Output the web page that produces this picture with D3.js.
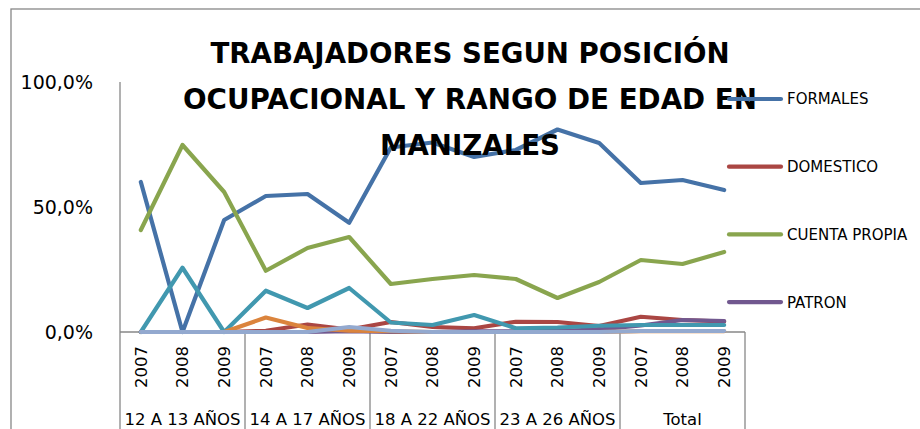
<!DOCTYPE html>
<html><head><meta charset="utf-8">
<script src="https://cdn.jsdelivr.net/npm/d3@7"></script>
<style>body{margin:0;background:#fff}svg{display:block}text{font-family:"DejaVu Sans",sans-serif}</style>
</head><body><svg id="c" width="920" height="429"></svg>
<script>
const groups = ["12 A 13 AÑOS","14 A 17 AÑOS","18 A 22 AÑOS","23 A 26 AÑOS","Total"];
const years = ["2007","2008","2009"];
const titleLines = ["TRABAJADORES SEGUN POSICIÓN","OCUPACIONAL Y RANGO DE EDAD EN","MANIZALES"];
const yTicks = [0,50,100];
const formales     = [60,0,44.8, 54.4,55.2,43.7, 73.8,75.8,70, 72.8,81,75.6, 59.6,60.8,56.8];
const domestico    = [0,0,0, 0.5,3,1, 4,2,1.5, 4.1,4,2.4, 6.1,4.8,4.2];
const cuentaPropia = [40.8,74.8,56, 24.5,33.6,38, 19.2,21.2,22.8, 21.2,13.6,20, 28.8,27.2,32];
const patron       = [0,0,0, 0,0,0.3, 0,0,0.3, 0.3,0.5,1, 2.6,4.8,4.4];
const serie5       = [0,25.7,0, 16.5,9.6,17.6, 3.8,2.8,6.8, 1.5,1.8,2.5, 2.8,2.8,2.8];
const serie6       = [0,0,0, 5.8,1.6,0.5, 0.3,0,0, 0,0,0, 0.3,0.3,0.3];
const serie7       = [0,0,0, 0,0,2, 0.5,0,0, 0,0,0, 0.4,0.4,0.4];
const seriesNames  = ["FORMALES","DOMESTICO","CUENTA PROPIA","PATRON","SERIE 5","SERIE 6","SERIE 7"];
const seriesValues = [formales,domestico,cuentaPropia,patron,serie5,serie6,serie7];
const colors = ["#4572A7","#AA4643","#89A54E","#71588F","#4198AF","#DB843D","#93A9CF"];
const legendCount = 4;

const cats = [];
groups.forEach(g => years.forEach(y => cats.push(g + "|" + y)));

const svg = d3.select("#c");
const L = 120, R = 745, T = 82, B = 332;
const x = d3.scaleBand().domain(cats).range([L, R]).padding(0);
const xg = d3.scaleBand().domain(groups).range([L, R]).padding(0);
const y = d3.scaleLinear().domain([0,100]).range([B, T]);
const cx = c => x(c) + x.bandwidth()/2;

// outer frame
svg.append("rect").attr("x",11).attr("y",9).attr("width",1000).attr("height",1000)
  .attr("fill","none").attr("stroke","#878787").attr("stroke-width",1.3);

// y axis
const ya = svg.append("g").attr("transform",`translate(${L},0)`)
  .call(d3.axisLeft(y).tickValues(yTicks).tickSize(0).tickPadding(27)
    .tickFormat(d => d.toFixed(1).replace(".",",") + "%"));
ya.select(".domain").remove();
ya.selectAll("text").attr("font-size",19).attr("fill","#000").attr("dy","0.36em")
  .attr("font-family","DejaVu Sans");
svg.append("line").attr("x1",L).attr("x2",L).attr("y1",y(100)).attr("y2",429)
  .attr("stroke","#878787").attr("stroke-width",1.3);
// x axis
svg.append("line").attr("x1",L).attr("x2",R).attr("y1",B).attr("y2",B)
  .attr("stroke","#878787").attr("stroke-width",1.3);
groups.forEach(g => {
  svg.append("line").attr("x1",xg(g)+xg.bandwidth()).attr("x2",xg(g)+xg.bandwidth())
    .attr("y1",B).attr("y2",429).attr("stroke","#878787").attr("stroke-width",1.3);
  svg.append("text").attr("x",xg(g)+xg.bandwidth()/2).attr("y",425)
    .attr("text-anchor","middle").attr("font-size",16.5).text(g);
});
cats.forEach(c => {
  svg.append("text").attr("transform",`translate(${cx(c)},367) rotate(-90)`)
    .attr("text-anchor","middle").attr("dy","0.36em").attr("font-size",16.5)
    .text(c.split("|")[1]);
});

// lines
const line = d3.line().x((d,i) => cx(cats[i])).y(d => y(d));
seriesValues.forEach((vals,k) => {
  svg.append("path").datum(vals).attr("d",line).attr("fill","none")
    .attr("stroke",colors[k]).attr("stroke-width",4.2)
    .attr("stroke-linejoin","round").attr("stroke-linecap","round");
});

// title
const titleW = [519,574,180];
titleLines.forEach((t,i) => {
  svg.append("text").attr("x",470).attr("y",63 + i*46).attr("text-anchor","middle")
    .attr("font-size",28).attr("font-weight","bold")
    .attr("textLength",titleW[i]).attr("lengthAdjust","spacingAndGlyphs").text(t);
});

// legend
for (let k = 0; k < legendCount; k++) {
  const ly = 99 + k*67.7;
  svg.append("line").attr("x1",729).attr("x2",781).attr("y1",ly).attr("y2",ly)
    .attr("stroke",colors[k]).attr("stroke-width",4.2).attr("stroke-linecap","round");
  svg.append("text").attr("x",787).attr("y",ly).attr("dy","0.36em")
    .attr("font-size",15).text(seriesNames[k]);
}
</script></body></html>
